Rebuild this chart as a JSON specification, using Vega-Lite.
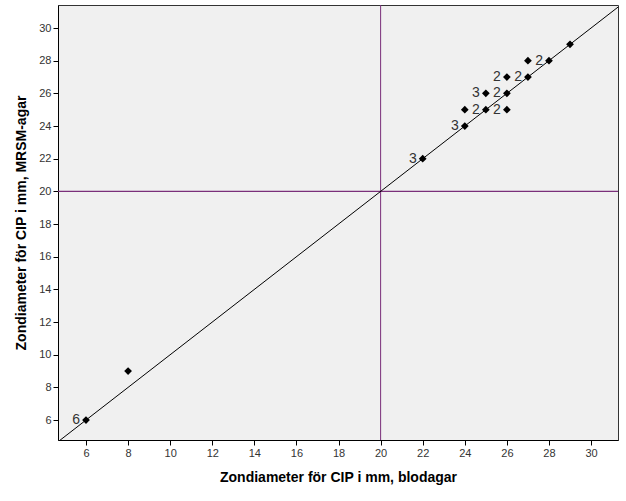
{
  "$schema": "https://vega.github.io/schema/vega-lite/v6.json",
  "width": 560,
  "height": 435,
  "autosize": {"type": "none"},
  "padding": {"left": 58, "top": 5, "right": 8, "bottom": 61},
  "background": "white",
  "config": {
    "view": {"fill": "#f0f0f0", "stroke": "#333333", "strokeWidth": 1},
    "font": "Liberation Sans",
    "axis": {
      "grid": false,
      "domainColor": "#000000",
      "tickColor": "#000000",
      "tickSize": 5,
      "labelColor": "#333333",
      "labelFontSize": 11,
      "labelOverlap": false,
      "labelFont": "Liberation Sans",
      "titleFont": "Liberation Sans",
      "titleFontSize": 14,
      "titleFontWeight": "bold",
      "titleColor": "#000000"
    }
  },
  "datasets": {
    "points": [
      {"blod": 6, "mrsm": 6, "n": "6"},
      {"blod": 8, "mrsm": 9, "n": ""},
      {"blod": 22, "mrsm": 22, "n": "3"},
      {"blod": 24, "mrsm": 24, "n": "3"},
      {"blod": 24, "mrsm": 25, "n": ""},
      {"blod": 25, "mrsm": 25, "n": "2"},
      {"blod": 26, "mrsm": 25, "n": "2"},
      {"blod": 25, "mrsm": 26, "n": "3"},
      {"blod": 26, "mrsm": 26, "n": "2"},
      {"blod": 26, "mrsm": 27, "n": "2"},
      {"blod": 27, "mrsm": 27, "n": "2"},
      {"blod": 27, "mrsm": 28, "n": ""},
      {"blod": 28, "mrsm": 28, "n": "2"},
      {"blod": 29, "mrsm": 29, "n": ""}
    ],
    "diag": [
      {"blod": 4.67, "mrsm": 4.67},
      {"blod": 31.3, "mrsm": 31.3}
    ]
  },
  "encoding": {
    "x": {
      "field": "blod", "type": "quantitative",
      "scale": {"domain": [4.67, 31.28], "nice": false, "zero": false},
      "axis": {"values": [6, 8, 10, 12, 14, 16, 18, 20, 22, 24, 26, 28, 30], "labelOverlap": false, "title": "Zondiameter för CIP i mm, blodagar", "titlePadding": 12}
    },
    "y": {
      "field": "mrsm", "type": "quantitative",
      "scale": {"domain": [4.78, 31.41], "nice": false, "zero": false},
      "axis": {"values": [6, 8, 10, 12, 14, 16, 18, 20, 22, 24, 26, 28, 30], "labelOverlap": false, "title": "Zondiameter för CIP i mm, MRSM-agar", "titlePadding": 10}
    }
  },
  "layer": [
    {
      "data": {"values": [{"blod": 20, "mrsm": 4.78, "mrsm2": 31.41}]},
      "mark": {"type": "rule", "color": "#7a2f7a", "strokeWidth": 1},
      "encoding": {"y2": {"field": "mrsm2"}}
    },
    {
      "data": {"values": [{"blod": 4.67, "blod2": 31.28, "mrsm": 20}]},
      "mark": {"type": "rule", "color": "#7a2f7a", "strokeWidth": 1.3},
      "encoding": {"x2": {"field": "blod2"}}
    },
    {
      "data": {"name": "diag"},
      "mark": {"type": "line", "color": "#000000", "strokeWidth": 1, "clip": true},
      "encoding": {}
    },
    {
      "data": {"name": "points"},
      "mark": {"type": "point", "shape": "diamond", "filled": true, "color": "#000000", "opacity": 1, "size": 60},
      "encoding": {}
    },
    {
      "data": {"name": "points"},
      "mark": {"type": "text", "align": "right", "baseline": "middle", "dx": -6, "fontSize": 14, "color": "#333333", "font": "Liberation Sans"},
      "encoding": {"text": {"field": "n"}}
    }
  ]
}
